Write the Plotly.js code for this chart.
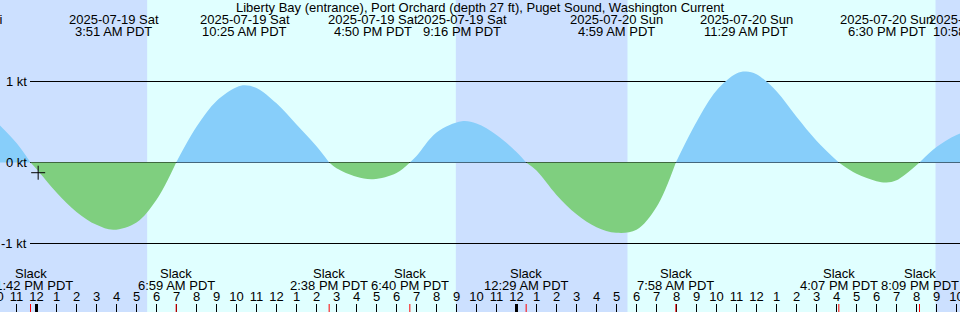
<!DOCTYPE html>
<html><head><meta charset="utf-8">
<script src="https://cdn.plot.ly/plotly-3.0.1.min.js"></script>
<style>
html,body{margin:0;padding:0;overflow:hidden;width:960px;height:312px;background:#CCE0FF}
#chart{position:absolute;left:-70px;top:0;width:1100px;height:312px}
</style>
</head><body><div id="chart"></div>
<script>
// ---- data ----
const titleText = 'Liberty Bay (entrance), Port Orchard (depth 27 ft), Puget Sound, Washington Current';

const times = ['2025-07-18 22:00','2025-07-18 23:00','2025-07-18 23:42','2025-07-19 00:00','2025-07-19 01:00','2025-07-19 02:00','2025-07-19 03:00','2025-07-19 03:51','2025-07-19 05:00','2025-07-19 06:00','2025-07-19 06:59','2025-07-19 08:00','2025-07-19 09:00','2025-07-19 10:00','2025-07-19 10:25','2025-07-19 11:00','2025-07-19 12:00','2025-07-19 13:00','2025-07-19 14:00','2025-07-19 14:38','2025-07-19 15:00','2025-07-19 16:00','2025-07-19 16:50','2025-07-19 18:00','2025-07-19 18:40','2025-07-19 19:00','2025-07-19 20:00','2025-07-19 21:16','2025-07-19 22:00','2025-07-19 23:00','2025-07-20 00:00','2025-07-20 00:29','2025-07-20 01:00','2025-07-20 02:00','2025-07-20 03:00','2025-07-20 04:00','2025-07-20 04:59','2025-07-20 06:00','2025-07-20 07:00','2025-07-20 07:58','2025-07-20 09:00','2025-07-20 10:00','2025-07-20 11:00','2025-07-20 11:29','2025-07-20 12:00','2025-07-20 13:00','2025-07-20 14:00','2025-07-20 15:00','2025-07-20 16:07','2025-07-20 17:00','2025-07-20 18:00','2025-07-20 18:30','2025-07-20 19:00','2025-07-20 20:09','2025-07-20 21:00','2025-07-20 22:00','2025-07-20 22:58'];
const speeds = [0.50,0.24,0,-0.08,-0.37,-0.61,-0.77,-0.83,-0.74,-0.46,0,0.44,0.76,0.93,0.955,0.92,0.73,0.47,0.20,0,-0.07,-0.175,-0.206,-0.13,0,0.08,0.37,0.51,0.48,0.34,0.13,0,-0.10,-0.40,-0.64,-0.80,-0.868,-0.83,-0.55,0,0.50,0.89,1.10,1.123,1.09,0.88,0.565,0.27,0,-0.14,-0.23,-0.247,-0.22,0,0.19,0.34,0.40];

const extremeTimes = ['2025-07-18 20:10','2025-07-19 03:51','2025-07-19 10:25','2025-07-19 16:50','2025-07-19 21:16','2025-07-20 04:59','2025-07-20 11:29','2025-07-20 18:30','2025-07-20 22:58'];
const extremeDates = ['2025-07-18 Fri','2025-07-19 Sat','2025-07-19 Sat','2025-07-19 Sat','2025-07-19 Sat','2025-07-20 Sun','2025-07-20 Sun','2025-07-20 Sun','2025-07-20 Sun'];
const extremeLabels = ['8:10 PM PDT','3:51 AM PDT','10:25 AM PDT','4:50 PM PDT','9:16 PM PDT','4:59 AM PDT','11:29 AM PDT','6:30 PM PDT','10:58 PM PDT'];

const slackTimes = ['2025-07-18 23:42','2025-07-19 06:59','2025-07-19 14:38','2025-07-19 18:40','2025-07-20 00:29','2025-07-20 07:58','2025-07-20 16:07','2025-07-20 20:09'];
const slackLabels = ['11:42 PM PDT','6:59 AM PDT','2:38 PM PDT','6:40 PM PDT','12:29 AM PDT','7:58 AM PDT','4:07 PM PDT','8:09 PM PDT'];

const sunrises = ['2025-07-19 05:32','2025-07-20 05:33'];
const sunsets  = ['2025-07-19 20:58','2025-07-20 20:57'];
const midnights = ['2025-07-19 00:00','2025-07-20 00:00'];

const yTickVals = [1, 0, -1];
const yTickText = ['1 kt', '0 kt', '-1 kt'];

const nowTime = ['2025-07-19 00:05'];
const nowValue = [-0.126];

// ---- styling ----
const FONT = '"Liberation Sans", Arial, sans-serif';
const NIGHT = '#CCE0FF', DAY = '#E0FFFF', FLOOD = '#87CEFA', EBB = '#7FCF7F';
const H = 312, W = 1100, OFF = 70;
const py = p => 1 - p / H;          // page pixel row -> paper fraction
const px = p => (p + OFF) / W;      // page pixel col -> paper fraction

const posY = speeds.map(v => v >= 0 ? v : null);
const negY = speeds.map(v => v <= 0 ? v : null);

const traces = [
  {type:'scatter', mode:'lines', x:times, y:posY, connectgaps:false,
   line:{shape:'spline', width:0, color:FLOOD}, fill:'tozeroy', fillcolor:FLOOD, hoverinfo:'skip'},
  {type:'scatter', mode:'lines', x:times, y:negY, connectgaps:false,
   line:{shape:'spline', width:0, color:EBB}, fill:'tozeroy', fillcolor:EBB, hoverinfo:'skip'},
  {type:'scatter', mode:'markers', x:nowTime, y:nowValue,
   marker:{symbol:'cross-thin', size:10, line:{width:1, color:'#000'}, color:'#000'}, hoverinfo:'skip'}
];

const shapes = [];
sunrises.forEach((s, i) => shapes.push({type:'rect', layer:'below', xref:'x', yref:'paper',
  x0:s, x1:sunsets[i], y0:0, y1:1, fillcolor:DAY, line:{width:0}}));
yTickVals.forEach(v => shapes.push({type:'line', layer:'below', xref:'paper', yref:'y',
  x0:px(30), x1:1, y0:v, y1:v, line:{color:'#000', width:1}}));
slackTimes.forEach(t => shapes.push({type:'line', layer:'above', xref:'x', yref:'paper',
  x0:t, x1:t, y0:0, y1:8/H, line:{color:'#FF0000', width:1}}));
midnights.forEach(t => shapes.push({type:'line', layer:'above', xref:'x', yref:'paper',
  x0:t, x1:t, y0:0, y1:8/H, line:{color:'#000', width:3}}));

const ann = [];
const af = {family:FONT, size:13, color:'#000'};
extremeTimes.forEach((t, i) => {
  ann.push({x:t, xref:'x', y:py(19.5), yref:'paper', text:extremeDates[i], showarrow:false, xanchor:'center', yanchor:'middle', font:af});
  ann.push({x:t, xref:'x', y:py(31.5), yref:'paper', text:extremeLabels[i], showarrow:false, xanchor:'center', yanchor:'middle', font:af});
});
slackTimes.forEach((t, i) => {
  ann.push({x:t, xref:'x', y:py(273.2), yref:'paper', text:'Slack', showarrow:false, xanchor:'center', yanchor:'middle', font:af});
  ann.push({x:t, xref:'x', y:py(285), yref:'paper', text:slackLabels[i], showarrow:false, xanchor:'center', yanchor:'middle', font:af});
});
yTickVals.forEach((v, i) => ann.push({x:px(29), xref:'paper', y:v, yref:'y', text:yTickText[i],
  showarrow:false, xanchor:'right', yanchor:'middle', font:af}));

const layout = {
  width:W, height:H, margin:{l:0, r:0, t:0, b:0},
  paper_bgcolor:NIGHT, plot_bgcolor:NIGHT, showlegend:false,
  font:af,
  title:{text:titleText, x:0.5, xanchor:'center', xref:'container', y:py(7.2), yanchor:'middle', yref:'container', font:af},
  xaxis:{type:'date', range:['2025-07-18 18:40:30','2025-07-21 01:40:30'], showgrid:false, zeroline:false, showline:false,
    ticks:'inside', ticklen:8, tickwidth:1, tickcolor:'#000', dtick:3600000, tick0:'2025-07-19 00:00',
    tickformat:'%-I', ticklabelposition:'inside', tickfont:af, fixedrange:true},
  yaxis:{range:[(162.5 - H) / 81, 162.5 / 81], showgrid:false, zeroline:false, showline:false,
    showticklabels:false, ticks:'', fixedrange:true},
  shapes:shapes, annotations:ann
};

Plotly.newPlot('chart', traces, layout, {staticPlot:true, displayModeBar:false});
</script></body></html>
